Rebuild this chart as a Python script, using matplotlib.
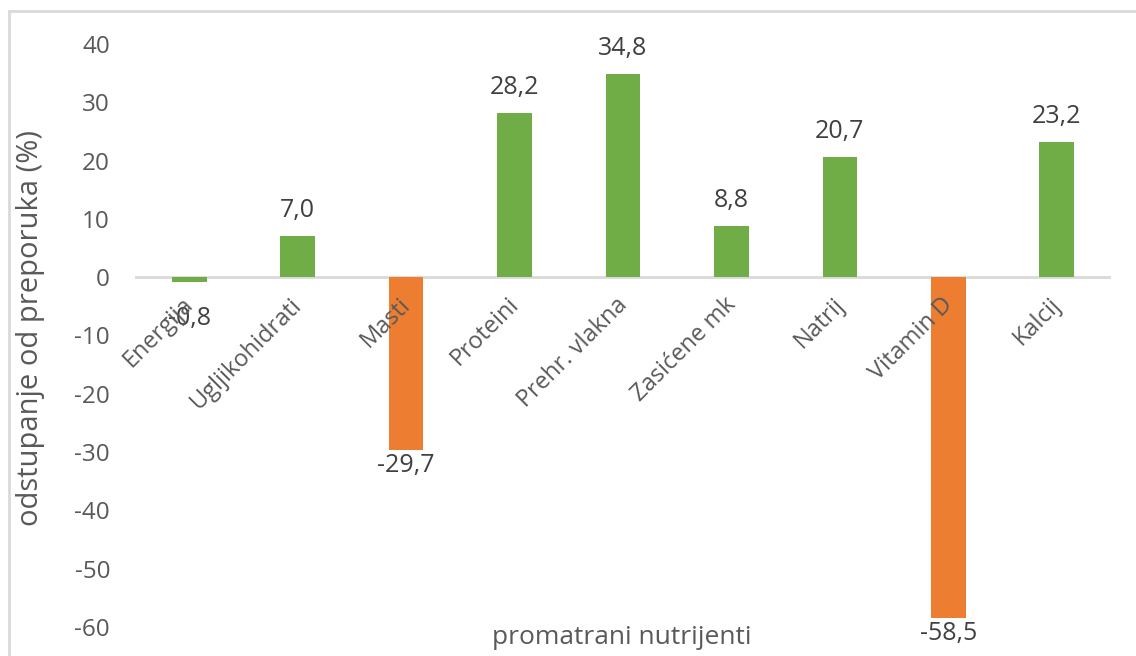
import numpy as np
import matplotlib
matplotlib.use("Agg")
import matplotlib.pyplot as plt
from matplotlib.patches import Rectangle

# podaci
nutrijenti = ['Energija', 'Ugljikohidrati', 'Masti', 'Proteini', 'Prehr. vlakna',
              'Zasićene mk', 'Natrij', 'Vitamin D', 'Kalcij']
odstupanje = [-0.8, 7.0, -29.7, 28.2, 34.8, 8.8, 20.7, -58.5, 23.2]
boje = ['#70AD47', '#70AD47', '#ED7D31', '#70AD47', '#70AD47',
        '#70AD47', '#70AD47', '#ED7D31', '#70AD47']
y_ticks = [-60, -50, -40, -30, -20, -10, 0, 10, 20, 30, 40]

plt.rcParams['font.family'] = ['Open Sans', 'DejaVu Sans']
siva = '#595959'

fig = plt.figure(figsize=(11.36, 6.56), dpi=100)
ax = fig.add_axes([135 / 1136, 29 / 656, 976 / 1136, 583 / 656])

x = np.arange(len(nutrijenti))
ax.bar(x, odstupanje, width=0.32, color=boje, zorder=2)

ax.set_xlim(-0.5, len(nutrijenti) - 0.5)
ax.set_ylim(-60, 40)
ax.set_yticks(y_ticks)
ax.set_yticklabels([str(t) for t in y_ticks], fontsize=17.5, color=siva)
ax.tick_params(axis='y', length=0, pad=18)
ax.set_xticks([])

for s in ax.spines.values():
    s.set_visible(False)
ax.axhline(0, color='#d9d9d9', lw=2, zorder=1)

# oznake vrijednosti
for xi, v in zip(x, odstupanje):
    txt = f'{v:.1f}'.replace('.', ',')
    if v >= 0:
        ax.annotate(txt, (xi, v), xytext=(0, 13), textcoords='offset pixels',
                    ha='center', va='bottom', fontsize=18, color='#404040')
    else:
        dy = -24 if abs(v) < 5 else -3
        ax.annotate(txt, (xi, v), xytext=(0, dy), textcoords='offset pixels',
                    ha='center', va='top', fontsize=18, color='#404040')

# nazivi kategorija (zarotirani)
for xi, naziv in zip(x, nutrijenti):
    ax.annotate(naziv, (xi, 0), xytext=(1, -24), textcoords='offset pixels',
                ha='right', va='center', rotation=45, rotation_mode='anchor',
                fontsize=17, color=siva)

fig.text(31 / 1136, 0.5, 'odstupanje od preporuka (%)', rotation=90,
         ha='center', va='center', fontsize=21, color=siva)
fig.text(622 / 1136, 1 - 637 / 656, 'promatrani nutrijenti', ha='center', va='center',
         fontsize=19, color=siva)

# okvir grafikona
fig.patches.append(Rectangle((9 / 1136, -0.1), 1.2, 1.1 - 11 / 656, transform=fig.transFigure,
                             fill=False, edgecolor='#d9d9d9', lw=2))

fig.savefig('out.png', dpi=100)
